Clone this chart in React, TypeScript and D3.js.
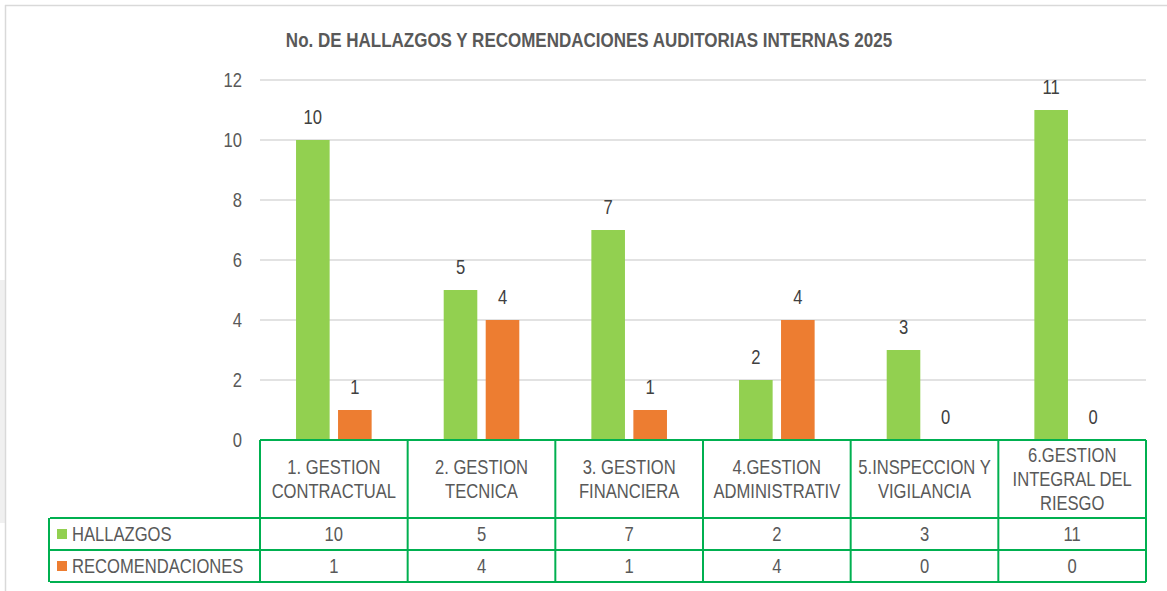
import React, { useEffect, useRef } from 'react';
import * as d3 from 'd3';

const categories = [
  ['1. GESTION', 'CONTRACTUAL'],
  ['2. GESTION', 'TECNICA'],
  ['3. GESTION', 'FINANCIERA'],
  ['4.GESTION', 'ADMINISTRATIV'],
  ['5.INSPECCION Y', 'VIGILANCIA'],
  ['6.GESTION', 'INTEGRAL DEL', 'RIESGO'],
];
const seriesNames = ['HALLAZGOS', 'RECOMENDACIONES'];
const seriesColors = ['#92d050', '#ed7d31'];
const hallazgos = [10, 5, 7, 2, 3, 11];
const recomendaciones = [1, 4, 1, 4, 0, 0];
const yTicks = [0, 2, 4, 6, 8, 10, 12];
const title = 'No. DE HALLAZGOS Y RECOMENDACIONES AUDITORIAS INTERNAS 2025';

const FONT = "'Liberation Sans', Arial, sans-serif";
// no narrow font available, so squeeze Liberation Sans horizontally
const NARROW = 0.83;

type Sel = d3.Selection<any, unknown, null, undefined>;

const label = (
  parent: Sel, x: number, y: number, str: string | number,
  opts: { anchor?: string; size?: number; fill?: string; bold?: boolean; sx?: number } = {}
) => {
  const g = parent.append('g').attr('transform', `translate(${x},${y}) scale(${opts.sx ?? NARROW},1)`);
  g.append('text')
    .attr('dy', '0.35em')
    .attr('text-anchor', opts.anchor ?? 'middle')
    .attr('font-family', FONT)
    .attr('font-size', opts.size ?? 20)
    .attr('font-weight', opts.bold ? 'bold' : 'normal')
    .attr('fill', opts.fill ?? '#595959')
    .text(str);
  return g;
};

const App = () => {
  const ref = useRef<SVGSVGElement>(null);

  useEffect(() => {
    const svg = d3.select(ref.current);
    svg.selectAll('*').remove();

    const width = 1167;
    const height = 591;
    const plotLeft = 260;
    const plotRight = 1146;
    const tableLeft = 50;
    const headerBottom = 518;
    const rowH = 32;
    const gridColor = '#00b050';
    const textColor = '#595959';

    // frame
    svg.append('rect').attr('x', 0).attr('y', 280).attr('width', 5).attr('height', 243).attr('fill', '#f0f0f0');
    svg.append('line').attr('x1', 5.5).attr('x2', 5.5).attr('y1', 5).attr('y2', height)
      .attr('stroke', '#d9d9d9').attr('stroke-width', 1.5);
    svg.append('line').attr('x1', 5).attr('x2', width).attr('y1', 5.5).attr('y2', 5.5)
      .attr('stroke', '#d9d9d9').attr('stroke-width', 1.5);

    // title
    label(svg, 589, 40, title, { size: 20, bold: true, sx: 0.85, fill: textColor });

    const y = d3.scaleLinear().domain([0, 12]).range([440, 80]);
    const x0 = d3.scaleBand<number>().domain(d3.range(categories.length)).range([plotLeft, plotRight]);
    const bw = x0.bandwidth();
    const x1 = d3.scaleBand<number>().domain([0, 1]).range([bw * 0.244, bw * 0.756]).paddingInner(0.2);

    // gridlines
    svg.append('g').selectAll('line').data(yTicks.filter(t => t > 0)).enter().append('line')
      .attr('x1', plotLeft).attr('x2', plotRight)
      .attr('y1', d => y(d)).attr('y2', d => y(d))
      .attr('stroke', '#d9d9d9').attr('stroke-width', 1.5);

    // y labels
    const yl = svg.append('g');
    yTicks.forEach(d => label(yl, 242, y(d), d, { anchor: 'end' }));

    // bars
    const series = [hallazgos, recomendaciones];
    series.forEach((vals, s) => {
      const g = svg.append('g');
      g.selectAll('rect').data(vals).enter().append('rect')
        .attr('x', (d, i) => x0(i)! + x1(s)!)
        .attr('y', d => y(d))
        .attr('width', x1.bandwidth())
        .attr('height', d => y(0) - y(d))
        .attr('fill', seriesColors[s]);
      vals.forEach((d, i) =>
        label(g, x0(i)! + x1(s)! + x1.bandwidth() / 2, y(d) - 23, d, { fill: '#404040' }));
    });

    // data table
    const t = svg.append('g');
    const line = (x1v: number, y1v: number, x2v: number, y2v: number) =>
      t.append('line').attr('x1', x1v).attr('y1', y1v).attr('x2', x2v).attr('y2', y2v)
        .attr('stroke', gridColor).attr('stroke-width', 2);

    const tableBottom = headerBottom + rowH * 2;
    line(plotLeft, 440, plotRight, 440);
    line(tableLeft, headerBottom, plotRight, headerBottom);
    line(tableLeft, headerBottom + rowH, plotRight, headerBottom + rowH);
    line(tableLeft, tableBottom, plotRight, tableBottom);
    line(tableLeft - 1, headerBottom, tableLeft - 1, tableBottom);
    d3.range(categories.length + 1).forEach(i => {
      const xx = i < categories.length ? x0(i)! : plotRight;
      line(xx, 440, xx, tableBottom);
    });

    // category labels
    categories.forEach((lines, i) => {
      const cx = x0(i)! + bw / 2;
      const cy = (440 + headerBottom) / 2;
      const lh = 24;
      lines.forEach((str, j) => label(t, cx, cy + (j - (lines.length - 1) / 2) * lh, str));
    });

    // rows
    series.forEach((vals, s) => {
      const cy = headerBottom + rowH * s + rowH / 2;
      t.append('rect').attr('x', 57).attr('y', cy - 5).attr('width', 10).attr('height', 10)
        .attr('fill', seriesColors[s]);
      label(t, 72, cy, seriesNames[s], { anchor: 'start' });
      vals.forEach((d, i) => label(t, x0(i)! + bw / 2, cy, d));
    });
  }, []);

  return (
    <svg ref={ref} width={1167} height={591}
      style={{ position: 'absolute', left: 0, top: 0, background: '#fff' }} />
  );
};

export default App;
